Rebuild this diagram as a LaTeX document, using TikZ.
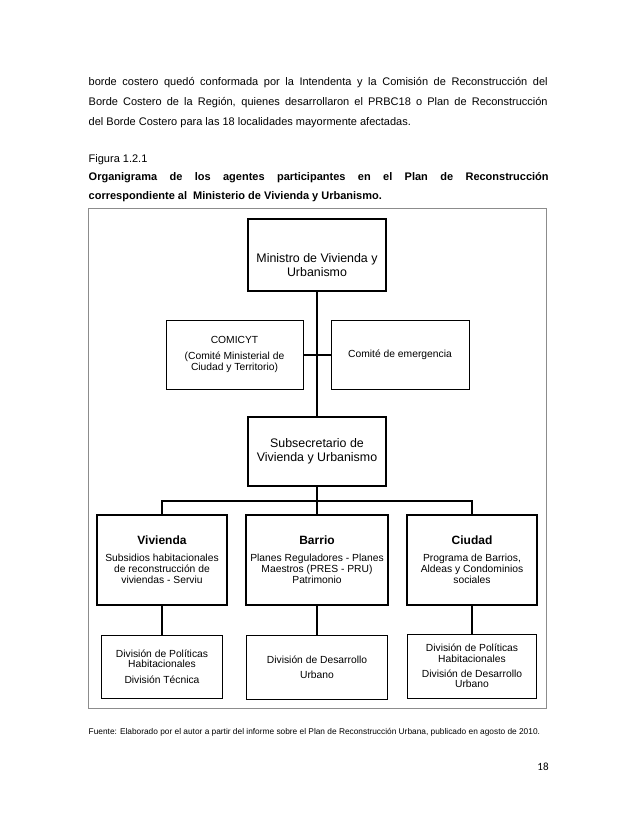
\documentclass[tikz,border=0pt]{standalone}
\usepackage{fontspec}
\setmainfont{Liberation Sans}
\newfontfamily\pagefont{Carlito}
\usetikzlibrary{positioning}

\tikzset{
  bodyline/.style={anchor=west, inner sep=0pt, font=\fontsize{11}{13}\selectfont},
  thickbox/.style={draw, line width=1.8pt, align=center, inner sep=2pt},
  thinbox/.style={draw, line width=0.9pt, align=center, inner sep=2pt},
  bigtext/.style={font=\fontsize{12.4}{13.8}\selectfont},
  smalltext/.style={font=\fontsize{10.3}{11}\selectfont},
  link/.style={line width=2pt},
}

\begin{document}
\begin{tikzpicture}[x=1pt, y=-1pt]
  \useasboundingbox (0,0) rectangle (638,826);
  % text above the figure
  \node[bodyline] (par1) at (88.5,83) {\hbox to 459pt{borde costero quedó conformada por la Intendenta y la Comisión de Reconstrucción del}};
  \node[bodyline] (par2) at (88.5,103) {\hbox to 459pt{Borde Costero de la Región, quienes desarrollaron el PRBC18 o Plan de Reconstrucción}};
  \node[bodyline] (par3) at (88.5,123) {del Borde Costero para las 18 localidades mayormente afectadas.};
  \node[bodyline] (fig) at (88.5,160) {Figura 1.2.1};
  \node[bodyline, font=\fontsize{11}{13}\selectfont\bfseries] (cap1) at (88.5,178) {\hbox to 460pt{Organigrama de los agentes participantes en el Plan de Reconstrucción}};
  \node[bodyline, font=\fontsize{11}{13}\selectfont\bfseries] (cap2) at (88.5,197) {correspondiente al\ \ Ministerio de Vivienda y Urbanismo.};

  % frame
  \draw[black!45, line width=0.9pt] (88,208) rectangle (546,708);

  % top level
  \node[thickbox, minimum width=138pt, minimum height=72pt] (min) at (317,255) {};
  \node[bigtext, align=center, inner sep=0pt] (mintext) at ([yshift=-10pt]min.center) {Ministro de Vivienda y\\Urbanismo};
  \node[thinbox, smalltext, minimum width=137pt, minimum height=69pt] (comi) at (234.5,354.5) {COMICYT\\[5pt](Comité Ministerial de\\Ciudad y Territorio)};
  \node[thinbox, smalltext, minimum width=138pt, minimum height=69pt] (emer) at (400,354.5) {Comité de emergencia};
  \node[thickbox, bigtext, minimum width=138pt, minimum height=69pt] (sub) at (317,451.5) {Subsecretario de\\Vivienda y Urbanismo};

  % areas
  \node[thickbox, smalltext, minimum width=130pt, minimum height=90pt] (viv) at (162,560) {{\fontsize{12}{11}\selectfont\bfseries Vivienda}\\[6pt]Subsidios habitacionales\\de reconstrucción de\\viviendas - Serviu};
  \node[thickbox, smalltext, minimum width=142pt, minimum height=90pt] (bar) at (317,560) {{\fontsize{12}{11}\selectfont\bfseries Barrio}\\[6pt]Planes Reguladores - Planes\\Maestros (PRES - PRU)\\Patrimonio};
  \node[thickbox, smalltext, minimum width=130pt, minimum height=90pt] (ciu) at (472,560) {{\fontsize{12}{11}\selectfont\bfseries Ciudad}\\[6pt]Programa de Barrios,\\Aldeas y Condominios\\sociales};

  % divisions
  \node[thinbox, font=\fontsize{10.3}{10.5}\selectfont, minimum width=121pt, minimum height=63pt] (dviv) at (162,666.5) {División de Políticas\\Habitacionales\\[4.5pt]División Técnica};
  \node[thinbox, font=\fontsize{10.3}{10.5}\selectfont, minimum width=141pt, minimum height=64pt] (dbar) at (317,667) {División de Desarrollo\\[4.5pt]Urbano};
  \node[thinbox, font=\fontsize{10.3}{10.5}\selectfont, minimum width=129pt, minimum height=64pt] (dciu) at (472,666) {División de Políticas\\Habitacionales\\[4.5pt]División de Desarrollo\\Urbano};

  % connectors
  \coordinate (bus) at (317,501);
  \draw[link] (min.south) -- (sub.north);
  \draw[link] (comi.east) -- (emer.west);
  \draw[link] (sub.south) -- (bar.north);
  \draw[link] (viv.north) |- (bus) -| (ciu.north);
  \draw[link] (viv.south) -- (dviv.north);
  \draw[link] (bar.south) -- (dbar.north);
  \draw[link] (ciu.south) -- (dciu.north);

  % source and page number
  \node[bodyline, font=\fontsize{8.33}{10}\selectfont] (fuente) at (88.5,732) {Fuente: Elaborado por el autor a partir del informe sobre el Plan de Reconstrucción Urbana, publicado en agosto de 2010.};
  \node[font=\pagefont\fontsize{11}{13}\selectfont] (pnum) at (543,767) {18};
\end{tikzpicture}
\end{document}
